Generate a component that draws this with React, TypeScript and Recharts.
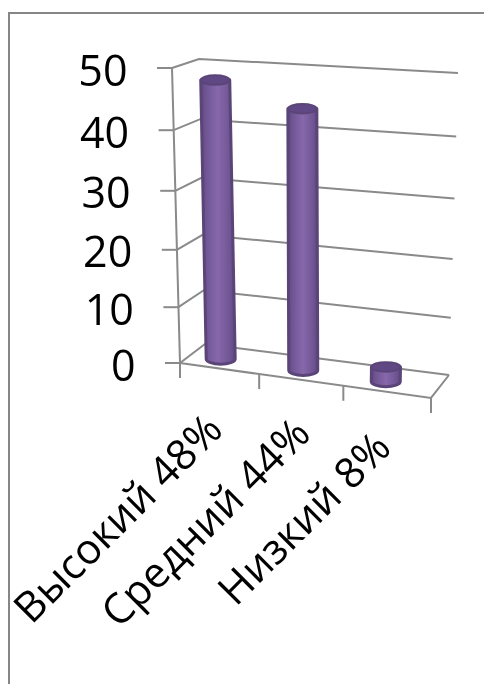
import React from "react";
import { BarChart, Bar, XAxis, YAxis, CartesianGrid } from "recharts";

const categories = ["Высокий 48%", "Средний 44%", "Низкий 8%"];
const barValues = [48, 45, 2.5];
const yTicks = [0, 10, 20, 30, 40, 50];
const chartData = categories.map((name, i) => ({ name, value: barValues[i] }));

const W = 484, H = 684;
const GRAY = "#8a8a8a";
const FONT = "'Open Sans', sans-serif";
const SW = 2;

const wall = (py: number) => {
  const t = (363 - py) / 295;
  const bend = 20 * t * (1 - t);
  return {
    fx: 180 - 8 * t, fy: py + bend,
    bx: 205 - 6 * t, by: 344 - 285 * t + bend,
    rx: 449 + 9 * t, ry: 375 - 302 * t + bend,
  };
};

const GridLine = (p: any) => {
  const w = wall(p.y1);
  return (
    <path key={p.key ?? p.y1} d={`M${w.fx} ${w.fy}L${w.bx} ${w.by}L${w.rx} ${w.ry}`} fill="none" stroke={GRAY} strokeWidth={SW} />
  );
};

const YTick = (p: any) => {
  const w = wall(p.y);
  const isTop = p.payload.value === 50;
  return (
    <g>
      <line x1={w.fx - 15} y1={w.fy} x2={w.fx} y2={w.fy} stroke={GRAY} strokeWidth={SW} />
      {isTop && <line x1={w.fx} y1={w.fy} x2={180} y2={363} stroke={GRAY} strokeWidth={SW} />}
      <text x={w.fx - 44.5} y={w.fy + 17.5} textAnchor="end" fontFamily={FONT} fontSize={43} fill="#000">{p.payload.value}</text>
    </g>
  );
};

const frontY = (x: number) => 363 + (x - 180) * 0.1394;
const labelAnchorX = [3, 7, 4];
const labelAnchorY = [432, 436, 450];
const tickShift = [0, 4.5, 4];

const XTick = (p: any) => {
  const i = p.index as number;
  const step = 83.67;
  const lx = p.x - step / 2 - tickShift[i];
  const right = p.x + step / 2;
  return (
    <g>
      <line x1={lx} y1={frontY(lx)} x2={lx} y2={frontY(lx) + 15} stroke={GRAY} strokeWidth={SW} />
      {i === 2 && <line x1={right} y1={frontY(right)} x2={right} y2={frontY(right) + 15} stroke={GRAY} strokeWidth={SW} />}
      {i === 2 && <path d={`M180 363L${right} ${frontY(right)}L449 375`} fill="none" stroke={GRAY} strokeWidth={SW} />}
      <text
        transform={`translate(${p.x + labelAnchorX[i]},${labelAnchorY[i]}) rotate(-45)`}
        textAnchor="end"
        fontFamily={FONT}
        fontSize={42}
        fill="#000"
      >
        {p.payload.value}
      </text>
    </g>
  );
};

const Cylinder = (p: any) => {
  const { x, width, height, index } = p;
  const c = 220.5 + (x + width / 2 - 221.8) * 0.9865;
  const base = 359 + (c - 220.5) * 0.136;
  const h = height * 0.985;
  const topX = c - (h / 280) * (5.5 - (c - 220.5) * 0.055);
  const topY = base - h;
  const rx = width / 2 - 0.5, ryB = 5.2, ryT = 4.8;
  const id = `cyl${index}`;
  return (
    <g>
      <defs>
        <linearGradient id={id} x1="0" x2="1" y1="0" y2="0">
          <stop offset="0" stopColor="#5f4880" />
          <stop offset="0.15" stopColor="#6f5593" />
          <stop offset="0.5" stopColor="#8768ab" />
          <stop offset="0.85" stopColor="#6f5593" />
          <stop offset="1" stopColor="#5f4880" />
        </linearGradient>
      </defs>
      <path
        d={`M${topX - rx} ${topY}L${c - rx} ${base}A${rx} ${ryB} 0 0 0 ${c + rx} ${base}L${topX + rx} ${topY}Z`}
        fill={`url(#${id})`}
        stroke="#5b4578"
        strokeWidth={3}
        strokeLinejoin="round"
      />
      <ellipse cx={topX} cy={topY} rx={rx} ry={ryT} fill="#5f4883" stroke="#5b4578" strokeWidth={2} />
    </g>
  );
};

export default function App() {
  return (
    <div style={{ position: "absolute", left: 0, top: 0, width: W, height: H, background: "#fff", filter: "blur(0.4px)" }}>
      <div style={{ position: "absolute", left: 8, top: 12, width: W - 8, height: H - 12, boxSizing: "border-box", borderLeft: "2px solid #868686", borderTop: "2px solid #868686" }} />
      <BarChart
        width={W}
        height={H}
        data={chartData}
        margin={{ top: 68, right: 53, bottom: 0, left: 0 }}
        barSize={30}
        style={{ position: "absolute", left: 0, top: 0 }}
      >
        <CartesianGrid horizontal={GridLine} vertical={false} />
        <XAxis dataKey="name" height={321} interval={0} axisLine={false} tickLine={false} tick={XTick} />
        <YAxis width={180} domain={[0, 50]} ticks={yTicks} axisLine={false} tickLine={false} tick={YTick} />
        <Bar dataKey="value" isAnimationActive={false} shape={Cylinder} />
      </BarChart>
    </div>
  );
}
